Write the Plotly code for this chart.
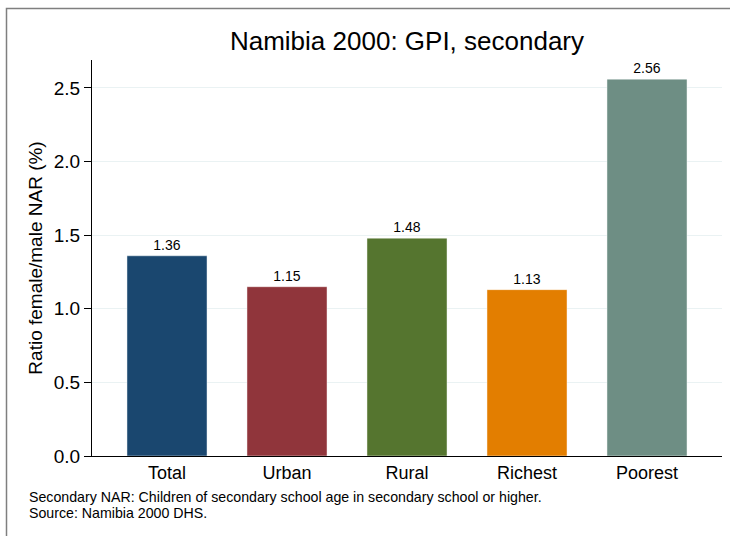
import plotly.graph_objects as go

categories = ["Total", "Urban", "Rural", "Richest", "Poorest"]
values = [1.36, 1.15, 1.48, 1.13, 2.56]
colors = ["#1a476f", "#90353b", "#55752f", "#e37e00", "#6e8e84"]
y_ticks = [0.0, 0.5, 1.0, 1.5, 2.0, 2.5]
note_lines = ["Secondary NAR: Children of secondary school age in secondary school or higher.",
              "Source: Namibia 2000 DHS."]

W, H = 730, 536
ml, mr, mt, mb = 92, 8, 60, 80
FONT = "Liberation Sans, Arial, sans-serif"

fig = go.Figure()
fig.add_trace(go.Bar(
    x=list(range(len(categories))), y=values,
    marker=dict(color=colors, line=dict(color="rgba(255,255,255,0.45)", width=1)),
    width=0.667,
    text=[f"{v:.2f}" for v in values], textposition="outside",
    textfont=dict(size=14, color="#000000", family=FONT),
    cliponaxis=False, showlegend=False,
))

pw = W - ml - mr
ph = H - mt - mb
def px_x(p):
    return (p - ml) / pw
def px_y(p):
    return (H - mb - p) / ph

fig.update_layout(
    width=W, height=H,
    margin=dict(l=ml, r=mr, t=mt, b=mb, autoexpand=False),
    paper_bgcolor="white", plot_bgcolor="white",
    font=dict(family=FONT, color="#000000"),
    title=dict(text="Namibia 2000: GPI, secondary", x=(ml + pw / 2) / W, xanchor="center",
               y=1 - 41 / H, yanchor="middle", font=dict(size=26)),
    xaxis=dict(range=[-0.625, 4.625], tickvals=list(range(len(categories))), ticktext=categories,
               showgrid=False, showline=True, linecolor="#000000", linewidth=1, ticks="",
               tickfont=dict(size=18), zeroline=False, fixedrange=True, automargin=False),
    yaxis=dict(range=[0, 2.69], tickvals=y_ticks, ticktext=[f"{t:.1f}" for t in y_ticks],
               showgrid=True, gridcolor="#eaf2f3", gridwidth=1, showline=True, linecolor="#000000",
               linewidth=1, ticks="outside", ticklen=7, tickcolor="#000000", tickfont=dict(size=19),
               zeroline=False, automargin=False, fixedrange=True,
               title=dict(text="Ratio female/male NAR (%)", font=dict(size=19), standoff=6)),
)

for line, yc in zip(note_lines, [497, 513]):
    fig.add_annotation(text=line, xref="paper", yref="paper", x=px_x(27), y=px_y(yc),
                       xanchor="left", yanchor="middle", align="left", showarrow=False,
                       font=dict(size=14.2))

fig.add_shape(type="rect", xref="paper", yref="paper",
              x0=px_x(6.5), x1=px_x(760), y0=px_y(8.5), y1=px_y(560),
              line=dict(color="#7f7f7f", width=1.5), fillcolor="rgba(0,0,0,0)")

fig.write_html("out.html", config={"displayModeBar": False},
               post_script="document.body.style.margin='0';document.body.style.overflow='hidden';")
